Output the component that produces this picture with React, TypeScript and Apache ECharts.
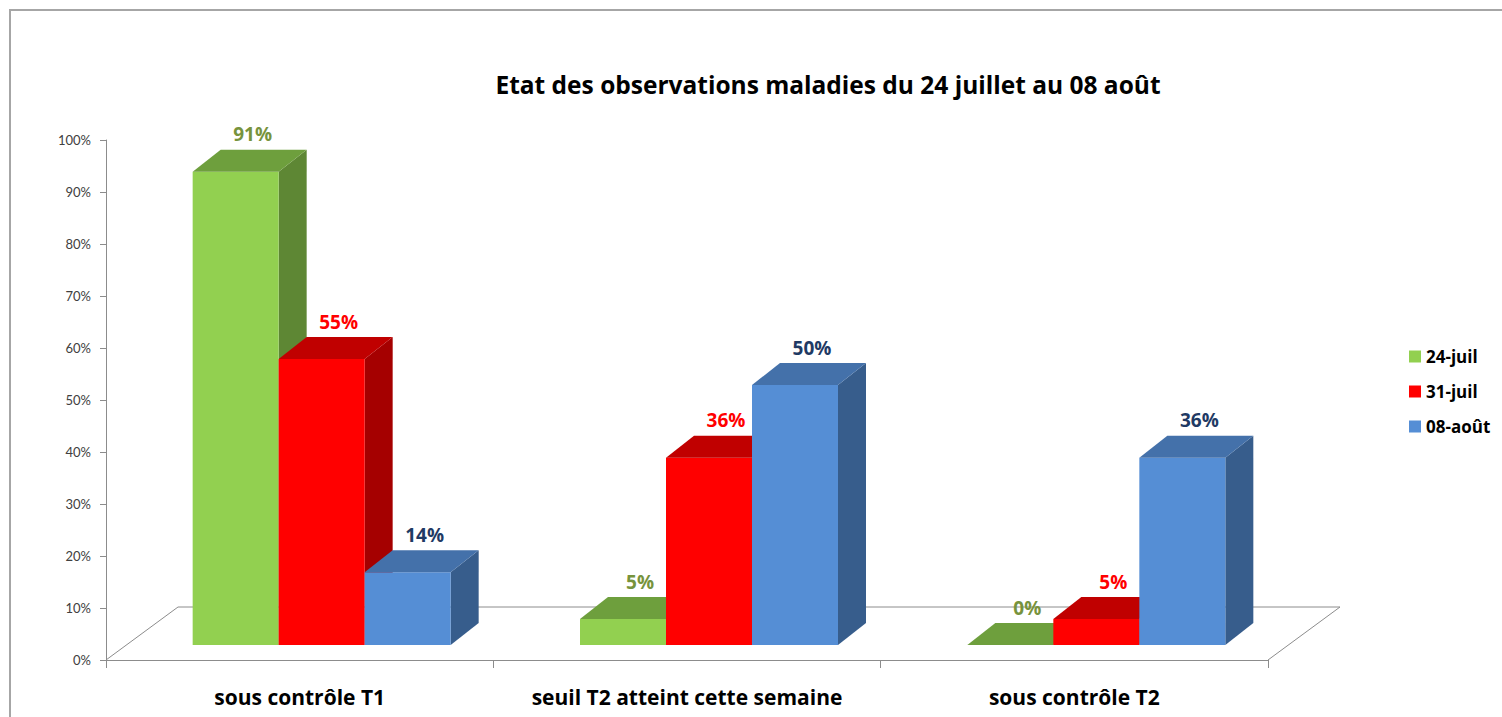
import React, { useEffect, useRef } from "react";
import * as echarts from "echarts";

const categories = ["sous contrôle T1", "seuil T2 atteint cette semaine", "sous contrôle T2"];
const seriesNames = ["24-juil", "31-juil", "08-août"];
const values24Juil = [0.91, 0.05, 0];
const values31Juil = [0.55, 0.36, 0.05];
const values08Aout = [0.14, 0.5, 0.36];
const titleText = "Etat des observations maladies du 24 juillet au 08 août";

const allValues = [values24Juil, values31Juil, values08Aout];

const palettes = [
  { front: "#92D050", top: "#6E9F3D", side: "#5E8734", label: "#77933C" },
  { front: "#FF0000", top: "#C00000", side: "#A50000", label: "#FF0000" },
  { front: "#558ED5", top: "#4471AA", side: "#375D8C", label: "#1F3A64" },
];

const FONT = "'Open Sans', Lato, sans-serif";
const AXFONT = "Lato, 'Open Sans', sans-serif";

export default function App() {
  const ref = useRef<HTMLDivElement>(null);
  useEffect(() => {
    if (!ref.current) return;
    const chart = echarts.init(ref.current, undefined, { renderer: "svg" });

    const barSeries = allValues.map((vals, s) => ({
      type: "custom",
      name: seriesNames[s],
      itemStyle: { color: palettes[s].front },
      encode: { x: 0, y: 1 },
      clip: false,
      z: 3 + s,
      data: vals.map((v, i) => [i, v]),
      renderItem: (params: any, api: any) => {
        const idx = api.value(0);
        const v = api.value(1);
        const base = api.coord([idx, 0]);
        const topP = api.coord([idx, v]);
        const cx = base[0] + 21.5;
        const w = 86;
        const x0 = cx - 128.5 + s * w;
        const x1 = x0 + w;
        const yb = base[1] - 15;
        const yt = topP[1] - 15;
        const dx = 28;
        const dy = -22;
        const p = palettes[s];
        const children: any[] = [];
        if (v > 0) {
          children.push({
            type: "polygon",
            shape: { points: [[x1, yt], [x1 + dx, yt + dy], [x1 + dx, yb + dy], [x1, yb]] },
            style: { fill: p.side },
          });
          children.push({
            type: "rect",
            shape: { x: x0, y: yt, width: w, height: yb - yt },
            style: { fill: p.front },
          });
        }
        children.push({
          type: "polygon",
          shape: { points: [[x0, yt], [x0 + dx, yt + dy], [x1 + dx, yt + dy], [x1, yt]] },
          style: { fill: p.top },
        });
        children.push({
          type: "text",
          x: (x0 + x1) / 2 + 17,
          y: yt + dy - 6,
          style: {
            text: Math.round(v * 100) + "%",
            fill: p.label,
            font: `bold 19px ${FONT}`,
            textAlign: "center",
            textVerticalAlign: "bottom",
          },
        });
        return { type: "group", children };
      },
    }));

    const floorSeries = {
      type: "custom",
      name: "floor",
      silent: true,
      z: 1,
      clip: false,
      data: [[0, 0]],
      renderItem: (params: any, api: any) => {
        const cs = params.coordSys;
        const xl = cs.x;
        const xr = cs.x + cs.width;
        const yf = cs.y + cs.height;
        const ddx = 72;
        const ddy = -53;
        return {
          type: "polyline",
          shape: {
            points: [
              [xl, yf],
              [xl + ddx, yf + ddy],
              [xr + ddx, yf + ddy],
              [xr, yf],
            ],
          },
          style: { stroke: "#8C8C8C", lineWidth: 1, fill: "none" },
        };
      },
    };

    chart.setOption({
      animation: false,
      backgroundColor: "#FFFFFF",
      grid: { left: 106, right: 234, top: 140, bottom: 57 },
      legend: {
        data: seriesNames,
        orient: "vertical",
        left: 1404,
        top: 343,
        itemWidth: 12,
        itemHeight: 12,
        itemGap: 18,
        icon: "rect",
        textStyle: { fontFamily: FONT, fontWeight: "bold", fontSize: 17, color: "#000" },
      },
      xAxis: {
        type: "category",
        data: categories,
        axisLine: { lineStyle: { color: "#8C8C8C" } },
        axisTick: { show: true, length: 8, lineStyle: { color: "#8C8C8C" } },
        axisLabel: {
          interval: 0,
          fontFamily: FONT,
          fontWeight: "bold",
          fontSize: 21,
          color: "#000",
          margin: 26,
        },
      },
      yAxis: {
        type: "value",
        min: 0,
        max: 1,
        interval: 0.1,
        axisLine: { show: true, lineStyle: { color: "#8C8C8C" } },
        axisTick: { show: true, length: 6, lineStyle: { color: "#8C8C8C" } },
        splitLine: { show: false },
        axisLabel: {
          fontFamily: AXFONT,
          fontSize: 13,
          color: "#404040",
          margin: 15,
          formatter: (v: number) => Math.round(v * 100) + "%",
        },
      },
      graphic: [
        {
          type: "rect",
          shape: { x: 10, y: 10, width: 1600, height: 800 },
          style: { fill: "none", stroke: "#A6A6A6", lineWidth: 2 },
          silent: true,
        },
        {
          type: "text",
          x: 828,
          y: 84,
          style: {
            text: titleText,
            font: `bold 24.5px ${FONT}`,
            fill: "#000",
            textAlign: "center",
            textVerticalAlign: "middle",
          },
        },
      ],
      series: [floorSeries, ...barSeries],
    });
    return () => chart.dispose();
  }, []);
  return (
    <div
      ref={ref}
      style={{ position: "fixed", left: 0, top: 0, width: 1502, height: 717 }}
    />
  );
}
